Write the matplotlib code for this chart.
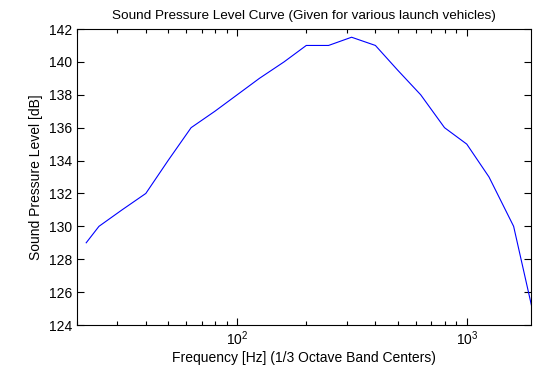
import matplotlib
matplotlib.use("Agg")
import matplotlib.pyplot as plt
from matplotlib.ticker import LogLocator, NullFormatter

# 1/3 octave band centre frequencies [Hz] and sound pressure levels [dB]
freq_hz = [22, 25, 31.5, 40, 50, 63, 80, 100, 125, 160, 200, 250, 315,
           400, 500, 630, 800, 1000, 1250, 1600, 2000]
spl_db = [129, 130, 131, 132, 134, 136, 137, 138, 139, 140, 141, 141, 141.5,
          141, 139.5, 138, 136, 135, 133, 130, 124]

y_ticks = [124, 126, 128, 130, 132, 134, 136, 138, 140, 142]

plt.rcParams["font.family"] = ["Liberation Sans", "DejaVu Sans"]

fig = plt.figure(figsize=(5.33, 3.70), dpi=100)
ax = fig.add_axes([0.1439, 0.1216, 0.8524, 0.80])

ax.semilogx(freq_hz, spl_db, color="#0000ff", linewidth=0.8)

ax.set_xlim(20, 1905)
ax.set_ylim(124, 142)
ax.set_yticks(y_ticks)
ax.xaxis.set_major_locator(LogLocator(base=10))
ax.xaxis.set_minor_locator(LogLocator(base=10, subs=range(2, 10)))
ax.xaxis.set_minor_formatter(NullFormatter())

ax.tick_params(which="both", direction="in", top=True, right=True,
               labelsize=10, colors="black", width=0.8)
ax.tick_params(which="major", length=5)
ax.tick_params(which="minor", length=3)
for s in ax.spines.values():
    s.set_linewidth(0.8)

ax.set_title("Sound Pressure Level Curve (Given for various launch vehicles)",
             fontsize=9.7, pad=7)
ax.set_xlabel("Frequency [Hz] (1/3 Octave Band Centers)", fontsize=10, labelpad=2)
ax.set_ylabel("Sound Pressure Level [dB]", fontsize=10, labelpad=4)

fig.savefig("out.png", dpi=100)
